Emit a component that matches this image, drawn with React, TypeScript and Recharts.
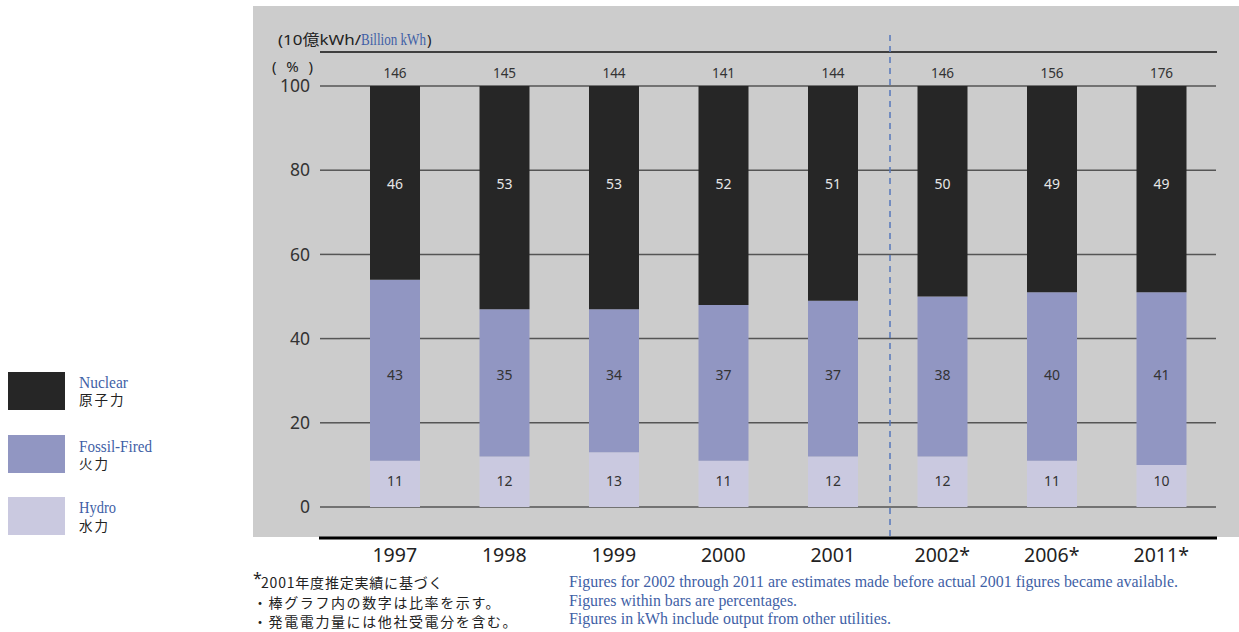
import React from "react";
import { BarChart, Bar, XAxis, YAxis, CartesianGrid, LabelList } from "recharts";

const years = ["1997", "1998", "1999", "2000", "2001", "2002*", "2006*", "2011*"];
const totals = [146, 145, 144, 141, 144, 146, 156, 176];
const nuclear = [46, 53, 53, 52, 51, 50, 49, 49];
const fossil = [43, 35, 34, 37, 37, 38, 40, 41];
const hydro = [11, 12, 13, 11, 12, 12, 11, 10];
const yTicks = [0, 20, 40, 60, 80, 100];

const rows = years.map((year, i) => ({
  year,
  total: totals[i],
  nuclear: nuclear[i],
  fossil: fossil[i],
  hydro: hydro[i],
}));

const W = 1239;
const H = 632;
const SANS = "'Noto Sans', 'Noto Sans CJK JP', sans-serif";
const JP = "'Noto Sans CJK JP', 'Noto Sans', sans-serif";
const SERIF = "'Liberation Serif', 'DejaVu Serif', serif";
const BLUE = "#3f5fa6";

const C_NUC = "#262626";
const C_FOS = "#9196c2";
const C_HYD = "#cac9e0";

// label rows sit at fixed percentage heights, as in the original
const makeInnerLabel = (key: string, fixedPct: number, color: string) => (props: any) => {
  const { x, y, width, height, value, index } = props;
  const row: any = rows[index];
  const v = Number(value);
  if (!v) return null;
  const px = Number(height) / v;
  const base = key === "hydro" ? 0 : key === "fossil" ? row.hydro : row.hydro + row.fossil;
  const zeroY = Number(y) + Number(height) + base * px;
  const ty = zeroY - fixedPct * px;
  return (
    <text
      x={Number(x) + Number(width) / 2}
      y={ty}
      textAnchor="middle"
      dominantBaseline="central"
      fontSize={14}
      fontFamily={SANS}
      fill={color}
    >
      {value}
    </text>
  );
};

const TotalLabel = (props: any) => {
  const { x, y, width, index } = props;
  return (
    <text
      x={Number(x) + Number(width) / 2}
      y={Number(y) - 13}
      textAnchor="middle"
      dominantBaseline="central"
      fontSize={13.5}
      fontFamily={SANS}
      fill="#333"
    >
      {totals[index]}
    </text>
  );
};

export default function App() {
  return (
    <div style={{ position: "absolute", left: 0, top: 0, width: W, height: H, background: "#fff" }}>
      <div style={{ position: "absolute", left: 253, top: 6, width: W - 253, height: 531, background: "#cccccc" }} />
      <div style={{ position: "absolute", left: 0, top: 0 }}>
        <BarChart
          width={W}
          height={H}
          data={rows}
          margin={{ top: 86, right: 23, bottom: 65, left: 0 }}
          barSize={50}
        >
          <CartesianGrid horizontal vertical={false} stroke="#555" strokeWidth={1.5} />
          <YAxis
            type="number"
            domain={[0, 100]}
            ticks={yTicks}
            width={340}
            axisLine={false}
            tickSize={20}
            tickMargin={10}
            tickLine={{ stroke: "#555", strokeWidth: 1.5 }}
            tick={{ fontSize: 17.5, fontFamily: SANS, fill: "#333" }}
            interval={0}
          />
          <XAxis
            dataKey="year"
            height={60}
            axisLine={false}
            tickLine={false}
            tickSize={0}
            tickMargin={41}
            tick={{ fontSize: 19.5, fontFamily: SANS, fill: "#222" }}
            interval={0}
          />
          <Bar dataKey="hydro" stackId="a" fill={C_HYD} isAnimationActive={false}>
            <LabelList dataKey="hydro" content={makeInnerLabel("hydro", 6.2, "#333")} />
          </Bar>
          <Bar dataKey="fossil" stackId="a" fill={C_FOS} isAnimationActive={false}>
            <LabelList dataKey="fossil" content={makeInnerLabel("fossil", 31.4, "#333")} />
          </Bar>
          <Bar dataKey="nuclear" stackId="a" fill={C_NUC} isAnimationActive={false}>
            <LabelList dataKey="nuclear" content={makeInnerLabel("nuclear", 76.8, "#e6e6e6")} />
            <LabelList dataKey="total" content={TotalLabel} />
          </Bar>
        </BarChart>
      </div>
      <svg
        width={W}
        height={H}
        style={{ position: "absolute", left: 0, top: 0, pointerEvents: "none" }}
      >
        {/* decorative rules */}
        <line x1={320} y1={52} x2={1217} y2={52} stroke="#111" strokeWidth={1.5} />
        <line x1={319} y1={538} x2={1217} y2={538} stroke="#000" strokeWidth={3} />
        <line x1={890} y1={35} x2={890} y2={537} stroke="#5577bb" strokeWidth={1.5} strokeDasharray="6 5" />

        {/* unit captions */}
        <text x={278} y={45} fontSize={15} fontFamily={SANS} fill="#222" textLength={83} lengthAdjust="spacingAndGlyphs">
          (10億kWh/
        </text>
        <text x={361} y={45} fontSize={16} fontFamily={SERIF} fill={BLUE} textLength={65} lengthAdjust="spacingAndGlyphs">
          Billion kWh
        </text>
        <text x={427} y={45} fontSize={15} fontFamily={SANS} fill="#222">)</text>
        <text x={272} y={72} fontSize={15} fontFamily={SANS} fill="#222" textLength={41} lengthAdjust="spacing">
          (%)
        </text>

        {/* legend */}
        <rect x={8} y={372} width={57} height={38} fill={C_NUC} />
        <rect x={8} y={435} width={57} height={38} fill={C_FOS} />
        <rect x={8} y={497} width={57} height={38} fill={C_HYD} />
        <text x={79} y={388} fontSize={16} fontFamily={SERIF} fill={BLUE} textLength={49} lengthAdjust="spacingAndGlyphs">Nuclear</text>
        <text x={79} y={405} fontSize={13.5} fontFamily={JP} fill="#222" letterSpacing={2}>原子力</text>
        <text x={79} y={452} fontSize={16} fontFamily={SERIF} fill={BLUE} textLength={73} lengthAdjust="spacingAndGlyphs">Fossil-Fired</text>
        <text x={79} y={469} fontSize={13.5} fontFamily={JP} fill="#222" letterSpacing={2}>火力</text>
        <text x={79} y={513} fontSize={16} fontFamily={SERIF} fill={BLUE} textLength={37} lengthAdjust="spacingAndGlyphs">Hydro</text>
        <text x={79} y={531} fontSize={13.5} fontFamily={JP} fill="#222" letterSpacing={2}>水力</text>

        {/* Japanese notes */}
        <text x={253} y={584} fontSize={16} fontFamily={SANS} fill="#222">*</text>
        <text x={261} y={588} fontSize={14} fontFamily={JP} fill="#222" letterSpacing={0.8}>2001年度推定実績に基づく</text>
        <text x={253} y={608} fontSize={14} fontFamily={JP} fill="#222" letterSpacing={1.6}>・棒グラフ内の数字は比率を示す。</text>
        <text x={253} y={627} fontSize={14} fontFamily={JP} fill="#222" letterSpacing={1.6}>・発電電力量には他社受電分を含む。</text>

        {/* English notes */}
        <text x={569} y={587} fontSize={16} fontFamily={SERIF} fill={BLUE} textLength={609} lengthAdjust="spacingAndGlyphs">
          Figures for 2002 through 2011 are estimates made before actual 2001 figures became available.
        </text>
        <text x={569} y={606} fontSize={16} fontFamily={SERIF} fill={BLUE} textLength={228} lengthAdjust="spacingAndGlyphs">
          Figures within bars are percentages.
        </text>
        <text x={569} y={624} fontSize={16} fontFamily={SERIF} fill={BLUE} textLength={322} lengthAdjust="spacingAndGlyphs">
          Figures in kWh include output from other utilities.
        </text>
      </svg>
    </div>
  );
}
